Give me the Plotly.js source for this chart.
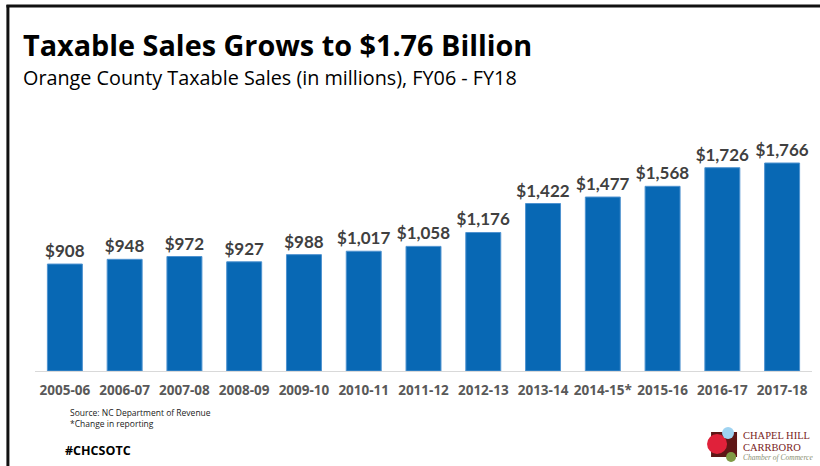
<!DOCTYPE html>
<html>
<head>
<meta charset="utf-8">
<script src="https://cdn.plot.ly/plotly-3.0.1.min.js"></script>
<style>
  html, body { margin: 0; padding: 0; background: #ffffff; }
  #chart { width: 820px; height: 466px; }
</style>
</head>
<body>
<div id="chart"></div>
<script>
// ---- Data ----
const fiscalYears = ["2005-06", "2006-07", "2007-08", "2008-09", "2009-10", "2010-11", "2011-12",
                     "2012-13", "2013-14", "2014-15*", "2015-16", "2016-17", "2017-18"];
const taxableSales = [908, 948, 972, 927, 988, 1017, 1058, 1176, 1422, 1477, 1568, 1726, 1766];
const salesLabels = taxableSales.map(v => "$" + v.toLocaleString("en-US"));

// ---- Layout geometry (pixels) ----
const W = 820, H = 466;
const M = { l: 34.6, r: 8, t: 110, b: 95 };
const plotW = W - M.l - M.r, plotH = H - M.t - M.b;
const px = x => (x - M.l) / plotW;          // pixel x -> paper x
const py = y => (H - M.b - y) / plotH;      // pixel y -> paper y

const trace = {
  type: "bar",
  x: fiscalYears,
  y: taxableSales,
  text: salesLabels,
  textposition: "outside",
  constraintext: "none",
  cliponaxis: false,
  textfont: { family: "Lato", size: 17, color: "#404040", weight: "bold" },
  marker: { color: "#0868b4", line: { color: "#4f93d0", width: 1 } },
  hoverinfo: "skip"
};

const layout = {
  width: W, height: H,
  margin: M,
  paper_bgcolor: "#ffffff",
  plot_bgcolor: "#ffffff",
  showlegend: false,
  bargap: 0.415,
  uniformtext: { mode: false },
  xaxis: {
    type: "category",
    showline: true, linecolor: "#d9d9d9", linewidth: 1,
    showgrid: false, zeroline: false,
    ticks: "",
    ticklabelstandoff: 7,
    tickfont: { family: "Open Sans", size: 13.5, color: "#595959", weight: "bold" },
    fixedrange: true
  },
  yaxis: {
    range: [0, 2216],
    visible: false,
    showgrid: false, zeroline: false,
    fixedrange: true
  },
  shapes: [
    // frame
    { type: "line", xref: "paper", yref: "paper", x0: px(7.5), x1: px(7.5), y0: py(5), y1: py(H + 2),
      line: { color: "#111111", width: 3 } },
    { type: "line", xref: "paper", yref: "paper", x0: px(6), x1: px(W + 2), y0: py(6), y1: py(6),
      line: { color: "#111111", width: 3 } },
    // logo
    { type: "rect", xref: "paper", yref: "paper", x0: px(711), x1: px(737), y0: py(457), y1: py(432),
      fillcolor: "#5e1616", line: { width: 0 } },
    { type: "circle", xref: "paper", yref: "paper", x0: px(707), x1: px(727), y0: py(454), y1: py(434),
      fillcolor: "#e0213a", line: { width: 0 } },
    { type: "circle", xref: "paper", yref: "paper", x0: px(722), x1: px(734), y0: py(439), y1: py(427),
      fillcolor: "#9fd3f1", line: { width: 0 } },
    { type: "circle", xref: "paper", yref: "paper", x0: px(726), x1: px(736), y0: py(462), y1: py(452),
      fillcolor: "#7f9a45", line: { width: 0 } }
  ],
  annotations: [
    { text: "<b>Taxable Sales Grows to $1.76 Billion</b>", xref: "paper", yref: "paper",
      x: px(21), y: py(66), xanchor: "left", yanchor: "bottom", showarrow: false,
      font: { family: "Open Sans", size: 28.8, color: "#000000" } },
    { text: "Orange County Taxable Sales (in millions), FY06 - FY18", xref: "paper", yref: "paper",
      x: px(21), y: py(93), xanchor: "left", yanchor: "bottom", showarrow: false,
      font: { family: "Open Sans", size: 19.8, color: "#000000" } },
    { text: "Source: NC Department of Revenue<br>*Change in reporting", xref: "paper", yref: "paper",
      x: px(68), y: py(405), xanchor: "left", yanchor: "top", align: "left", showarrow: false,
      font: { family: "Open Sans", size: 8.5, color: "#222222" } },
    { text: "<b>#CHCSOTC</b>", xref: "paper", yref: "paper",
      x: px(63), y: py(440), xanchor: "left", yanchor: "top", showarrow: false,
      font: { family: "Open Sans", size: 12.5, color: "#000000" } },
    { text: "CHAPEL HILL", xref: "paper", yref: "paper",
      x: px(741), y: py(436), xanchor: "left", yanchor: "middle", showarrow: false,
      font: { family: "Liberation Serif", size: 10.5, color: "#7a2424" } },
    { text: "CARRBORO", xref: "paper", yref: "paper",
      x: px(741), y: py(447), xanchor: "left", yanchor: "middle", showarrow: false,
      font: { family: "Liberation Serif", size: 10.5, color: "#7a2424" } },
    { text: "<i>Chamber of Commerce</i>", xref: "paper", yref: "paper",
      x: px(741), y: py(457.5), xanchor: "left", yanchor: "middle", showarrow: false,
      font: { family: "Liberation Serif", size: 7.5, color: "#8a8f72" } }
  ]
};

Plotly.newPlot("chart", [trace], layout, { displayModeBar: false, staticPlot: true });
</script>
</body>
</html>
